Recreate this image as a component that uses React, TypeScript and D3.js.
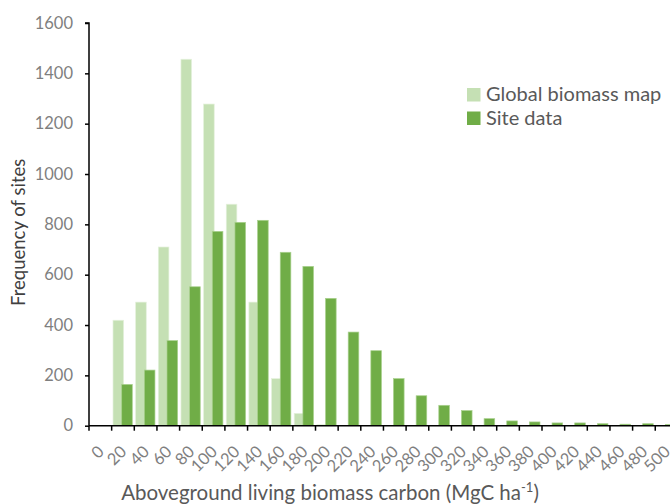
// biomass carbon histogram, global map vs site data
import React, {useEffect, useRef} from 'react';
import * as d3 from 'd3';

// data
const categories = ['0','20','40','60','80','100','120','140','160','180','200','220','240','260','280','300','320','340','360','380','400','420','440','460','480','500'];
const globalMap = [0, 419, 491, 710, 1456, 1278, 880, 491, 187, 49, 4, 0, 0, 0, 0, 0, 0, 0, 0, 0, 0, 0, 0, 0, 0, 0];
const siteData = [0, 164, 221, 338, 552, 772, 808, 816, 689, 633, 506, 372, 298, 187, 119, 81, 60, 28, 19, 15, 11, 11, 8, 6, 8, 5];
const yTicks = [0, 200, 400, 600, 800, 1000, 1200, 1400, 1600];
const seriesNames = ['Global biomass map', 'Site data'];
const colors = ['#c5e0b4', '#70ad47'];

const W = 670, H = 504;
const FONT = 'Lato, "Open Sans", sans-serif';

export default function App(){
    const svgRef = useRef<SVGSVGElement>(null);

    useEffect(() => {
        const svg = d3.select(svgRef.current);
        svg.selectAll('*').remove();

        const left = 89, bottom = 425.7, top = 23;
        const band = 22.65;

        const xScale = d3.scaleBand<string>()
            .domain(categories)
            .range([left, left + band * categories.length])
            .padding(0);
        const yScale = d3.scaleLinear()
            .domain([0, 1600])
            .range([bottom, top]);

        const bw = xScale.bandwidth();
        const barW = bw * 0.468;
        const offsets = [bw * 0.06, bw * 0.06 + barW * 0.82];
        const strokes = ['#e4f1dc', '#a9d18e'];

        // bars
        [globalMap, siteData].forEach((vals, s) => {
            svg.append('g')
                .selectAll('rect')
                .data(vals.map((v, i) => ({v, c: categories[i]})).filter(d => d.v > 0))
                .enter()
                .append('rect')
                .attr('x', d => (xScale(d.c) as number) + offsets[s])
                .attr('y', d => yScale(d.v))
                .attr('width', barW)
                .attr('height', d => bottom - yScale(d.v))
                .attr('fill', colors[s])
                .attr('stroke', strokes[s])
                .attr('stroke-width', 0.7);
        });

        // y axis
        const yAxis = svg.append('g')
            .attr('transform', `translate(${left},0)`)
            .call(d3.axisLeft(yScale).tickValues(yTicks).tickSize(4).tickPadding(12).tickFormat(d3.format('d')));
        yAxis.select('.domain').attr('stroke', '#000').attr('stroke-width', 1.5).attr('d', `M-4,${top}H0V${bottom}`);
        yAxis.selectAll('.tick line').attr('stroke', '#000').attr('stroke-width', 1.5);
        yAxis.selectAll('.tick text')
            .attr('fill', '#7f7f7f')
            .attr('font-family', FONT)
            .attr('font-size', 16.5);

        // x axis
        const xg = svg.append('g').attr('transform', `translate(0,${bottom})`);
        xg.append('line')
            .attr('x1', left).attr('x2', W + 20)
            .attr('stroke', '#000').attr('stroke-width', 1.5);
        xg.selectAll('line.tk')
            .data(categories)
            .enter()
            .append('line')
            .attr('class', 'tk')
            .attr('x1', d => xScale(d) as number)
            .attr('x2', d => xScale(d) as number)
            .attr('y1', 0).attr('y2', 5)
            .attr('stroke', '#000').attr('stroke-width', 1.5);
        xg.selectAll('text')
            .data(categories)
            .enter()
            .append('text')
            .attr('transform', d => `translate(${(xScale(d) as number) + bw / 2 + 0.5},${23}) rotate(-45)`)
            .attr('text-anchor', 'end')
            .attr('dy', '0.35em')
            .attr('fill', '#7f7f7f')
            .attr('font-family', FONT)
            .attr('font-size', 16.5)
            .text(d => d);

        // axis titles
        svg.append('text')
            .attr('transform', `translate(25,${(top + bottom) / 2 + 8}) rotate(-90)`)
            .attr('text-anchor', 'middle')
            .attr('fill', '#404040')
            .attr('font-family', FONT)
            .attr('font-size', 18.5)
            .text('Frequency of sites');

        const xt = svg.append('text')
            .attr('x', 330)
            .attr('y', 500)
            .attr('text-anchor', 'middle')
            .attr('fill', '#595959')
            .attr('font-family', FONT)
            .attr('font-size', 20.5);
        xt.append('tspan').text('Aboveground living biomass carbon (MgC ha');
        xt.append('tspan').attr('dy', -8).attr('font-size', 13).text('-1');
        xt.append('tspan').attr('dy', 8).text(')');

        // legend
        const lg = svg.append('g').attr('transform', 'translate(467,88)');
        seriesNames.forEach((name, i) => {
            lg.append('rect')
                .attr('x', 0).attr('y', i * 23.5)
                .attr('width', 13.5).attr('height', 13.5)
                .attr('fill', colors[i]);
            lg.append('text')
                .attr('x', 19).attr('y', i * 23.5 + 13)
                .attr('fill', '#595959')
                .attr('font-family', FONT)
                .attr('font-size', 20)
                .text(name);
        });
    }, []);

    return (
        <svg ref={svgRef} width={W} height={H} style={{position: 'absolute', left: 0, top: 0, background: '#fff'}}></svg>
    );
}
